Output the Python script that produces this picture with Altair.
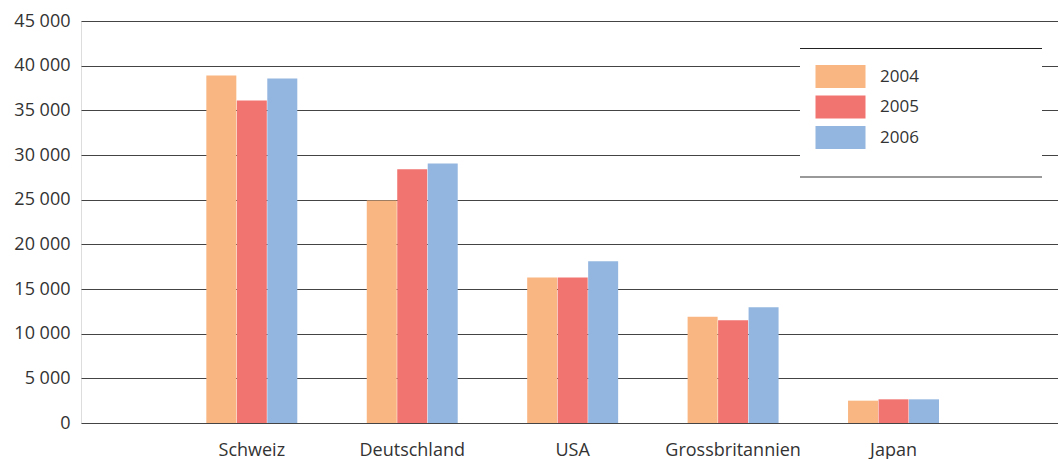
import altair as alt
import pandas as pd

countries = ["Schweiz", "Deutschland", "USA", "Grossbritannien", "Japan"]
years = ["2004", "2005", "2006"]
values_2004 = [38900, 24900, 16300, 11900, 2500]
values_2005 = [36100, 28400, 16300, 11500, 2650]
values_2006 = [38550, 29050, 18100, 12950, 2650]
colors = ["#F9B682", "#F17470", "#93B6E0"]
y_ticks = [0, 5000, 10000, 15000, 20000, 25000, 30000, 35000, 40000, 45000]

rows = []
for year, vals in zip(years, [values_2004, values_2005, values_2006]):
    for c, v in zip(countries, vals):
        rows.append({"Land": c, "Jahr": year, "Wert": v})
df = pd.DataFrame(rows)

FONT = "Open Sans"

# wide rectangular swatch: path drawn at a small symbol size, so rows stay compact
SWATCH = "M-5,-2.3H5V2.3H-5Z"

bars = alt.Chart(df).mark_bar(size=30).encode(
    x=alt.X("Land:N", sort=countries, title=None,
            scale=alt.Scale(paddingInner=0.43, paddingOuter=0.76, align=0.513),
            axis=alt.Axis(labelAngle=0, labelFont=FONT, labelFontSize=18,
                          labelColor="#333333", labelPadding=18, ticks=False,
                          domain=False, grid=False)),
    xOffset=alt.XOffset("Jahr:N", sort=years),
    y=alt.Y("Wert:Q", title=None,
            scale=alt.Scale(domain=[0, 45000], nice=False),
            axis=alt.Axis(values=y_ticks, grid=True, gridColor="#444444",
                          gridWidth=1, ticks=False, domain=False,
                          labelFont=FONT, labelFontSize=18, labelColor="#333333",
                          labelPadding=11,
                          labelExpr="replace(format(datum.value, ','), ',', ' ')")),
    color=alt.Color("Jahr:N", sort=years,
                    scale=alt.Scale(domain=years, range=colors),
                    legend=alt.Legend(title=None, orient="none", legendX=751,
                                      legendY=47, padding=0,
                                      symbolType=SWATCH,
                                      symbolSize=100, symbolStrokeWidth=0,
                                      symbolOpacity=1, rowPadding=7.5,
                                      labelOffset=31, labelFont=FONT,
                                      labelFontSize=17, labelColor="#333333")),
)

# white panel behind the legend, bounded by a line on top and bottom
box_src = pd.DataFrame({"k": [0]})
panel = alt.Chart(box_src).mark_rect(color="white").encode(
    x=alt.value(719), x2=alt.value(961), y=alt.value(27), y2=alt.value(156))
top_line = alt.Chart(box_src).mark_rule(color="#222222", strokeWidth=1).encode(
    x=alt.value(719), x2=alt.value(961), y=alt.value(27.5))
bottom_line = alt.Chart(box_src).mark_rule(color="#777777", strokeWidth=1.5).encode(
    x=alt.value(719), x2=alt.value(961), y=alt.value(156))

chart = alt.layer(bars, panel, top_line, bottom_line).properties(
    width=977, height=402,
    padding={"left": 81, "top": 21, "right": 0, "bottom": 36},
    autosize=alt.AutoSizeParams(type="none"),
).configure_view(stroke=None).configure(background="white")

chart.save("out.html", embed_options={"renderer": "svg", "actions": False})
